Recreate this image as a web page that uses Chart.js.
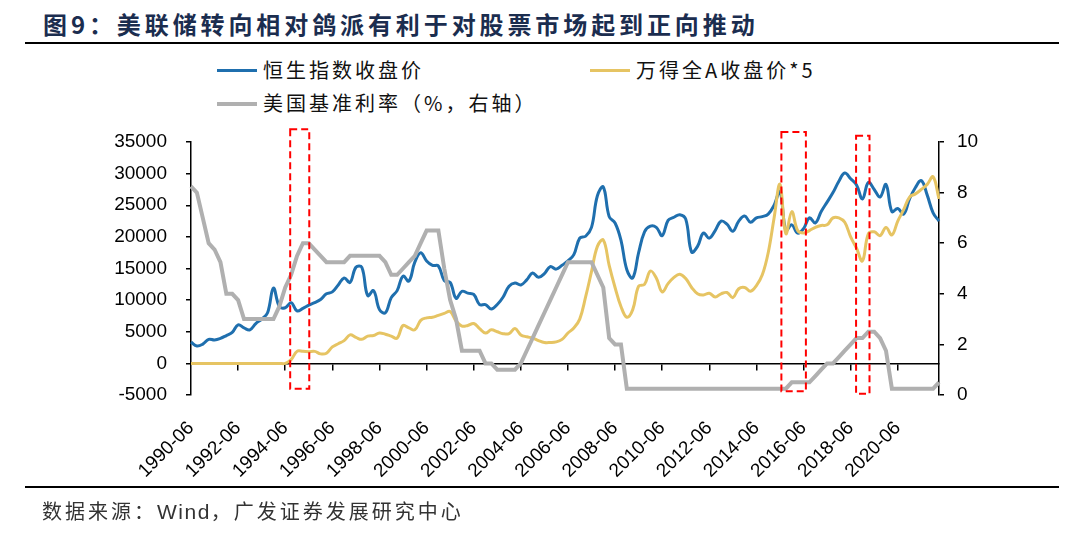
<!DOCTYPE html>
<html>
<head>
<meta charset="utf-8">
<script src="https://cdn.jsdelivr.net/npm/chart.js@4/dist/chart.umd.min.js"></script>
<style>
  body { margin: 0; background: #fff; }
  #wrap { position: relative; width: 1069px; height: 542px; overflow: hidden; }
  #chart { position: absolute; left: 0; top: 0; }
  .title { position: absolute; left: 43px; top: 6px; font: 700 24px "Noto Sans CJK SC"; letter-spacing: 3.9px; color: #1b2d4f; white-space: nowrap; }
  .rule { position: absolute; left: 25px; width: 1034px; height: 2px; background: #000; }
  .leg { position: absolute; font: 400 20px "Noto Sans CJK SC"; letter-spacing: 3px; color: #111; white-space: nowrap; line-height: 24px; }
  .leg i { display: inline-block; width: 40px; height: 3px; vertical-align: middle; margin-right: 6px; position: relative; top: -2px; }
  .src { position: absolute; left: 42px; top: 496px; font: 400 20px "Noto Sans CJK SC"; letter-spacing: 3px; color: #333; white-space: nowrap; }
  .src b { font: 400 21px "Liberation Sans"; letter-spacing: 1.5px; }
</style>
</head>
<body>
<div id="wrap">
  <div class="title">图9：美联储转向相对鸽派有利于对股票市场起到正向推动</div>
  <div class="rule" style="top:42px"></div>
  <div class="leg" style="left:217px;top:58px"><i style="background:#1f6fae"></i>恒生指数收盘价</div>
  <div class="leg" style="left:590px;top:58px"><i style="background:#e6c463"></i>万得全A收盘价*5</div>
  <div class="leg" style="left:217px;top:91px"><i style="background:#b0b0b0;height:4px"></i>美国基准利率（%，右轴）</div>
  <canvas id="chart" width="1069" height="542"></canvas>
  <div class="rule" style="top:486px"></div>
  <div class="src">数据来源：<b>Wind</b>，广发证券发展研究中心</div>
</div>
<script>
// quarterly, 1990-06 .. 2022-03
const categories = [];
for (let y = 1990, m = 6; y < 2022 || m <= 3; ) {
  categories.push(y + "-" + String(m).padStart(2, "0"));
  m += 3;
  if (m > 12) { m -= 12; y++; }
}

// 恒生指数收盘价
const hsi = [
  3370, 2750, 3050, 3800, 3700, 3950, 4400, 4900, 6100, 5600,
  5300, 6300, 7000, 8000, 11900, 9000, 8800, 9600, 8300, 8700,
  9200, 9600, 10100, 11000, 11300, 12400, 13500, 12800, 15200, 15200,
  10700, 11500, 8500, 8000, 10400, 11500, 13800, 13000, 16000, 17500,
  16200, 15500, 15400, 13100, 12800, 10300, 11400, 11100, 10900, 9300,
  9300, 8600, 9300, 10500, 12200, 12700, 12400, 13200, 14300, 13600,
  14200, 15300, 14900, 15500, 16200, 17200, 19800, 20100, 21500, 26500,
  27900, 23200, 22200, 19500, 14800, 13500, 17500, 20800, 21700, 21500,
  20200, 22600, 23100, 23500, 22800, 17600, 18500, 20600, 19800, 21000,
  22500, 22000, 20900, 22500, 23300, 22300, 23000, 23200, 23600, 25000,
  27200, 21000, 21900, 20600, 21300, 23000, 22200, 24000, 25500, 27000,
  28800, 30100, 29200, 28200, 26000, 28600, 27500, 26300, 28300, 24000,
  24500, 23600, 26000, 27800, 28900, 26600, 23800, 22500
];

// 万得全A收盘价*5
const windA = [
  0, 0, 0, 0, 0, 0, 0, 0, 0, 0,
  0, 0, 0, 0, 0, 0, 0, 600, 1900, 1900,
  1850, 1900, 1500, 1600, 2600, 3100, 3600, 4500, 4100, 3800,
  4300, 4400, 4800, 4600, 4300, 4000, 6000, 5600, 5300, 6800,
  7200, 7300, 7600, 7900, 8200, 6700, 5900, 6000, 6300, 5500,
  4800, 5300, 5000, 4700, 4700, 5500, 4500, 4200, 4000, 3600,
  3300, 3300, 3400, 3800, 4800, 5600, 7000, 10500, 14500, 18500,
  19500, 15500, 12000, 9000, 7300, 8500, 12200, 12500, 14600, 13500,
  11300, 12600, 13600, 14100, 13400, 12000, 11000, 10800, 11100, 10500,
  11000, 11200, 10400, 11800, 12000, 11400, 12300, 14000, 17500, 23000,
  28300, 20500, 24000, 21000, 20600, 21000, 21500, 21800, 21900, 23000,
  23000, 22300, 20000, 18200, 16200, 20500, 20800, 20200, 21500, 20300,
  22500, 24300, 26300, 26800, 27500, 28300, 29500, 26000
];

// 美国基准利率（%）
const fedRate = [
  8.25, 8.0, 7.0, 6.0, 5.75, 5.25, 4.0, 4.0, 3.75, 3.0,
  3.0, 3.0, 3.0, 3.0, 3.0, 3.5, 4.25, 4.75, 5.5, 6.0,
  6.0, 5.75, 5.5, 5.25, 5.25, 5.25, 5.25, 5.5, 5.5, 5.5,
  5.5, 5.5, 5.5, 5.25, 4.75, 4.75, 5.0, 5.25, 5.5, 6.0,
  6.5, 6.5, 6.5, 5.0, 3.75, 3.0, 1.75, 1.75, 1.75, 1.75,
  1.25, 1.25, 1.0, 1.0, 1.0, 1.0, 1.25, 1.75, 2.25, 2.75,
  3.25, 3.75, 4.25, 4.75, 5.25, 5.25, 5.25, 5.25, 5.25, 4.75,
  4.25, 2.25, 2.0, 2.0, 0.25, 0.25, 0.25, 0.25, 0.25, 0.25,
  0.25, 0.25, 0.25, 0.25, 0.25, 0.25, 0.25, 0.25, 0.25, 0.25,
  0.25, 0.25, 0.25, 0.25, 0.25, 0.25, 0.25, 0.25, 0.25, 0.25,
  0.25, 0.25, 0.5, 0.5, 0.5, 0.5, 0.75, 1.0, 1.25, 1.25,
  1.5, 1.75, 2.0, 2.25, 2.25, 2.5, 2.5, 2.25, 1.75, 0.25,
  0.25, 0.25, 0.25, 0.25, 0.25, 0.25, 0.25, 0.5
];

const leftTicks = [-5000, 35000, 5000];
const rightTicks = [0, 10, 1];

// highlighted periods (in years), red dashed boxes
const boxes = [[1994.71, 1995.52], [2015.56, 2016.6], [2018.73, 2019.3]];

const showLabel = (lab) => lab.endsWith("-06") && +lab.slice(0, 4) % 2 === 0;

const boxPlugin = {
  id: "boxes",
  afterDatasetsDraw(chart) {
    const { ctx, scales } = chart;
    const x = scales.x, y = scales.y;
    const px = (yr) => {
      const idx = (yr - 1990.5) * 4;
      const i = Math.floor(idx), f = idx - i;
      return x.getPixelForValue(i) + f * (x.getPixelForValue(i + 1) - x.getPixelForValue(i));
    };
    ctx.save();
    ctx.strokeStyle = "#ff0000";
    ctx.lineWidth = 2;
    ctx.setLineDash([7, 4]);
    const tops = [37000, 36600, 36000];
    boxes.forEach((b, k) => {
      const x0 = px(b[0]), x1 = px(b[1]);
      const y0 = y.getPixelForValue(tops[k]), y1 = y.getPixelForValue(-4000 - k * 400);
      ctx.strokeRect(x0, y0, x1 - x0, y1 - y0);
    });
    ctx.restore();
  }
};

new Chart(document.getElementById("chart"), {
  type: "line",
  data: {
    labels: categories,
    datasets: [
      { label: "恒生指数收盘价", data: hsi, borderColor: "#1f6fae", borderWidth: 3, tension: 0.4, yAxisID: "y", order: 3 },
      { label: "万得全A收盘价*5", data: windA, borderColor: "#e6c463", borderWidth: 3, tension: 0.4, yAxisID: "y", order: 2 },
      { label: "美国基准利率（%，右轴）", data: fedRate, borderColor: "#b0b0b0", borderWidth: 4, tension: 0, yAxisID: "y1", order: 1 }
    ]
  },
  options: {
    responsive: false,
    animation: false,
    layout: { padding: { top: 142, left: 0, right: 0, bottom: 0 } },
    elements: { point: { radius: 0 } },
    plugins: { legend: { display: false }, tooltip: { enabled: false } },
    scales: {
      x: {
        position: "bottom",
        grid: { display: false },
        border: { display: false },
        ticks: {
          autoSkip: false, minRotation: 45, maxRotation: 45, padding: 14,
          color: "#000", font: { family: "Liberation Sans", size: 19 },
          callback: function (v) { const l = this.getLabelForValue(v); return showLabel(l) ? l : ""; }
        },
        afterFit: (s) => { s.height = 147; }
      },
      x0: {
        type: "category",
        labels: categories,
        position: { y: 0 },
        border: { color: "#000", width: 1.5 },
        grid: {
          drawOnChartArea: false, tickLength: 6, lineWidth: 1.5,
          color: (c) => (c.index > 0 && showLabel(categories[c.index]) ? "#000" : "rgba(0,0,0,0)")
        },
        ticks: { display: false, autoSkip: false }
      },
      y: {
        position: "left",
        min: leftTicks[0], max: leftTicks[1],
        border: { color: "#000", width: 1.5 },
        grid: { drawOnChartArea: false, tickLength: 5, color: "#000", lineWidth: 1.5 },
        ticks: { stepSize: leftTicks[2], padding: 19, color: "#000", font: { family: "Liberation Sans", size: 19 }, callback: (v) => String(v) },
        afterFit: (s) => { s.width = 191; }
      },
      y1: {
        position: "right",
        min: rightTicks[0], max: rightTicks[1],
        border: { color: "#000", width: 1.5 },
        grid: { drawOnChartArea: false, tickLength: 5, color: "#000", lineWidth: 1.5 },
        ticks: { stepSize: rightTicks[2], padding: 13, color: "#000", font: { family: "Liberation Sans", size: 19 } },
        afterFit: (s) => { s.width = 130; }
      }
    }
  },
  plugins: [boxPlugin]
});
</script>
</body>
</html>
